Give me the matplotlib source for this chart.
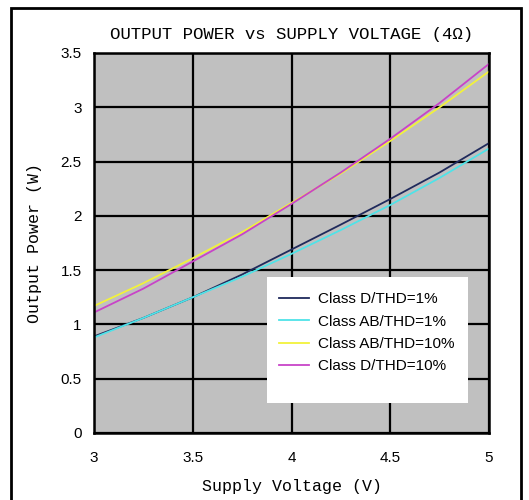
import matplotlib
matplotlib.use("Agg")
import matplotlib.pyplot as plt
from matplotlib.patches import Rectangle

# Supply voltage (V)
voltage = [3.0, 3.25, 3.5, 3.75, 4.0, 4.25, 4.5, 4.75, 5.0]

# Output power (W)
d_thd1 = [0.89, 1.06, 1.25, 1.46, 1.69, 1.92, 2.155, 2.40, 2.67]
ab_thd1 = [0.88, 1.06, 1.25, 1.44, 1.65, 1.87, 2.10, 2.35, 2.62]
ab_thd10 = [1.17, 1.38, 1.61, 1.85, 2.12, 2.39, 2.69, 3.00, 3.33]
d_thd10 = [1.11, 1.33, 1.58, 1.83, 2.11, 2.40, 2.71, 3.04, 3.40]

labels = ["Class D/THD=1%", "Class AB/THD=1%", "Class AB/THD=10%", "Class D/THD=10%"]
colors = ["#1F2A5C", "#4FE3E8", "#F2F23A", "#C844C8"]

xticks = [3, 3.5, 4, 4.5, 5]
xticklabels = ["3", "3.5", "4", "4.5", "5"]
yticks = [0, 0.5, 1, 1.5, 2, 2.5, 3, 3.5]
yticklabels = ["0", "0.5", "1", "1.5", "2", "2.5", "3", "3.5"]

serif_mono = ["Liberation Mono", "Noto Sans CJK SC"]

fig = plt.figure(figsize=(5.29, 5.0), dpi=100)
ax = fig.add_axes([0.1777, 0.134, 0.7467, 0.760])
ax.set_facecolor("#C0C0C0")

series = [d_thd1, ab_thd1, ab_thd10, d_thd10]
for vals, lab, col in zip(series, labels, colors):
    ax.plot(voltage, vals, color=col, linewidth=1.3, label=lab)

ax.set_xlim(3, 5)
ax.set_ylim(0, 3.5)
ax.set_xticks(xticks)
ax.set_xticklabels(xticklabels, fontsize=11, family="Liberation Sans")
ax.set_yticks(yticks)
ax.set_yticklabels(yticklabels, fontsize=11, family="Liberation Sans")
ax.tick_params(axis="x", length=0, pad=13)
ax.tick_params(axis="y", length=0, pad=9)
ax.grid(True, color="black", linewidth=1.6)
ax.set_axisbelow(True)
for sp in ax.spines.values():
    sp.set_linewidth(1.8)

ax.set_title("OUTPUT POWER vs SUPPLY VOLTAGE (4Ω)", fontsize=12.5,
             family=serif_mono, pad=10)
ax.set_xlabel("Supply Voltage (V)", fontsize=12, family=serif_mono, labelpad=10)
ax.set_ylabel("Output Power (W)", fontsize=12, family=serif_mono, labelpad=13)

# white legend panel (extends below the entries as in the original)
ax.add_patch(Rectangle((0.438, 0.079), 0.509, 0.331, transform=ax.transAxes,
                       facecolor="white", edgecolor="none", zorder=4))
leg = ax.legend(loc="upper left", bbox_to_anchor=(0.425, 0.415),
                frameon=False, prop={"family": "Liberation Sans", "size": 11},
                handlelength=2.0, handletextpad=0.6, borderpad=0.6,
                labelspacing=0.55)
leg.set_zorder(5)

# outer frame around the chart
fig.patches.append(Rectangle((11 / 529, -0.01), 510 / 529, 1 - 8 / 500 + 0.01,
                             transform=fig.transFigure, fill=False,
                             edgecolor="black", linewidth=2))

fig.savefig("out.png", dpi=100)
